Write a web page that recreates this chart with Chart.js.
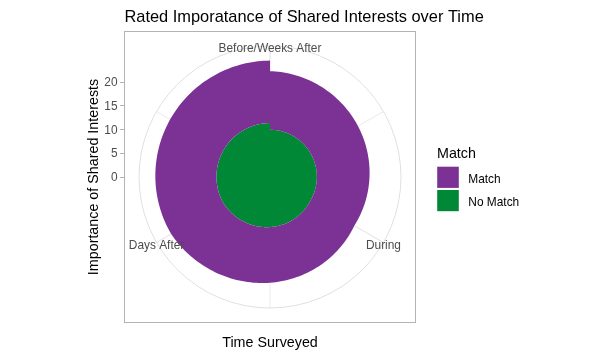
<!DOCTYPE html>
<html>
<head>
<meta charset="utf-8">
<script src="https://cdn.jsdelivr.net/npm/chart.js@4.4.1/dist/chart.umd.min.js"></script>
<style>
html,body{margin:0;padding:0;background:#ffffff;}
#wrap{width:612px;height:358px;position:relative;}
</style>
</head>
<body>
<div id="wrap"><canvas id="c" width="612" height="358"></canvas></div>
<script>
// ---- data ----
const categories = ["Before", "During", "Days After", "Weeks After"];
const seriesNames = ["Match", "No Match"];
const matchValues = [12.3, 10.6, 12.7, 13.1];     // stacked on top of No Match
const noMatchValues = [9.9, 9.8, 11.2, 11.3];
const rTickValues = [0, 5, 10, 15, 20];
const seriesColors = ["#7B3294", "#008837"];

const chartTitle = "Rated Imporatance of Shared Interests over Time";
const xTitle = "Time Surveyed";
const yTitle = "Importance of Shared Interests";
const legendTitle = "Match";

// ggplot polar: first and last theta labels coincide -> combined "first/last"
const thetaLabels = categories.slice(0, categories.length - 1);
thetaLabels[0] = categories[0] + "/" + categories[categories.length - 1];

const totals = categories.map((_, i) => matchValues[i] + noMatchValues[i]);
const rMax = Math.max(...totals);
const rOuter = rMax * 0.45 / 0.4;   // ggplot outer circle at 0.45, data range to 0.4

const FONT = "'Liberation Sans', Arial, Helvetica, sans-serif";
const f = (sz) => sz + "px " + FONT;

const polarPlot = {
  id: 'polarPlot',
  beforeDatasetsDraw(chart) {
    const s = chart.scales.r;
    const ctx = chart.ctx;
    const nSeg = thetaLabels.length;
    const step = 2 * Math.PI / nSeg;
    ctx.save();
    // minor theta grid lines (midway between categories)
    ctx.strokeStyle = '#E4E4E4';
    ctx.lineWidth = 0.8;
    for (let i = 0; i < nSeg; i++) {
      const a = (i + 0.5) * step - Math.PI / 2;
      ctx.beginPath();
      ctx.moveTo(s.xCenter, s.yCenter);
      ctx.lineTo(s.xCenter + Math.cos(a) * s.drawingArea, s.yCenter + Math.sin(a) * s.drawingArea);
      ctx.stroke();
    }
    // stacked areas in polar coordinates (radius linear in angle between points)
    const ds = chart.data.datasets;
    let base = ds[0].data.map(() => 0);
    const N = 80;
    const ptsFor = (vals) => {
      const pts = [];
      for (let k = 0; k < vals.length - 1; k++) {
        for (let j = 0; j <= N; j++) {
          if (k > 0 && j === 0) continue;
          const t = j / N;
          const v = vals[k] + (vals[k + 1] - vals[k]) * t;
          const a = (k + t) * step - Math.PI / 2;
          const r = s.getDistanceFromCenterForValue(v);
          pts.push([s.xCenter + Math.cos(a) * r, s.yCenter + Math.sin(a) * r]);
        }
      }
      return pts;
    };
    for (let d = ds.length - 1; d >= 0; d--) {
      const top = base.map((b, i) => b + ds[d].data[i]);
      const outer = ptsFor(top);
      const inner = ptsFor(base).reverse();
      ctx.beginPath();
      outer.forEach((p, i) => i ? ctx.lineTo(p[0], p[1]) : ctx.moveTo(p[0], p[1]));
      inner.forEach((p) => ctx.lineTo(p[0], p[1]));
      ctx.closePath();
      ctx.fillStyle = ds[d].backgroundColor;
      ctx.fill();
      base = top;
    }
    ctx.restore();
  },
  afterDraw(chart) {
    const s = chart.scales.r;
    const ctx = chart.ctx;
    const half = s.drawingArea / 0.9;   // panel half size (outer circle is 0.45 of panel)
    const L = Math.floor(s.xCenter - half) + 0.5, R = Math.floor(s.xCenter + half) + 0.5;
    const T = Math.floor(s.yCenter - half) + 0.5, B = Math.floor(s.yCenter + half) + 0.5;
    ctx.save();
    // panel border
    ctx.strokeStyle = '#B3B3B3';
    ctx.lineWidth = 1;
    ctx.strokeRect(L, T, R - L, B - T);
    // radial axis on the left
    ctx.font = f(11.9);
    ctx.fillStyle = '#4D4D4D';
    ctx.textAlign = 'right';
    ctx.textBaseline = 'alphabetic';
    rTickValues.forEach(v => {
      const y = s.yCenter - s.getDistanceFromCenterForValue(v);
      ctx.beginPath();
      ctx.moveTo(L - 4.5, Math.round(y) + 0.5);
      ctx.lineTo(L, Math.round(y) + 0.5);
      ctx.stroke();
      ctx.fillText(String(v), L - 7, y + 4.3);
    });
    // theta labels on the outer circle
    ctx.textAlign = 'center';
    thetaLabels.forEach((lab, i) => {
      const p = s.getPointPosition(i, s.drawingArea);
      ctx.fillText(lab, p.x, p.y + 6.2);
    });
    // titles
    ctx.fillStyle = '#000000';
    ctx.font = f(16.4);
    ctx.textAlign = 'left';
    ctx.fillText(chartTitle, L, 22);
    ctx.font = f(14.3);
    ctx.textAlign = 'center';
    ctx.fillText(xTitle, s.xCenter, 347);
    ctx.save();
    ctx.translate(97.6, s.yCenter);
    ctx.rotate(-Math.PI / 2);
    ctx.fillText(yTitle, 0, 0);
    ctx.restore();
    // legend
    ctx.textAlign = 'left';
    ctx.font = f(14.3);
    ctx.fillText(legendTitle, 437, 158.3);
    ctx.font = f(11.9);
    chart.data.datasets.forEach((d, i) => {
      const y0 = 166.7 + i * 23.3;
      ctx.fillStyle = d.backgroundColor;
      ctx.fillRect(437.2, y0, 21.6, 21.2);
      ctx.fillStyle = '#000000';
      ctx.fillText(d.label, 468.3, y0 + 16);
    });
    ctx.restore();
  }
};

new Chart(document.getElementById('c'), {
  type: 'radar',
  data: {
    labels: thetaLabels,
    datasets: [
      { label: seriesNames[0], data: matchValues, backgroundColor: seriesColors[0],
        borderColor: 'transparent', borderWidth: 0, showLine: false, fill: false, pointRadius: 0, pointHitRadius: 0 },
      { label: seriesNames[1], data: noMatchValues, backgroundColor: seriesColors[1],
        borderColor: 'transparent', borderWidth: 0, showLine: false, fill: false, pointRadius: 0, pointHitRadius: 0 }
    ]
  },
  options: {
    responsive: false,
    animation: false,
    devicePixelRatio: 1,
    events: [],
    layout: { padding: { left: 139, top: 46, right: 211, bottom: 50 } },
    plugins: { legend: { display: false }, title: { display: false }, tooltip: { enabled: false } },
    scales: {
      r: {
        min: 0,
        max: rOuter,
        startAngle: 0,
        ticks: { display: false },
        pointLabels: { display: false },
        grid: { circular: true, color: '#E0E0E0', lineWidth: 1 },
        angleLines: { display: true, color: '#E0E0E0', lineWidth: 1 },
        afterBuildTicks: (scale) => {
          scale.ticks = rTickValues.map(v => ({ value: v })).concat([{ value: scale.max }]);
        }
      }
    }
  },
  plugins: [polarPlot]
});
</script>
</body>
</html>
